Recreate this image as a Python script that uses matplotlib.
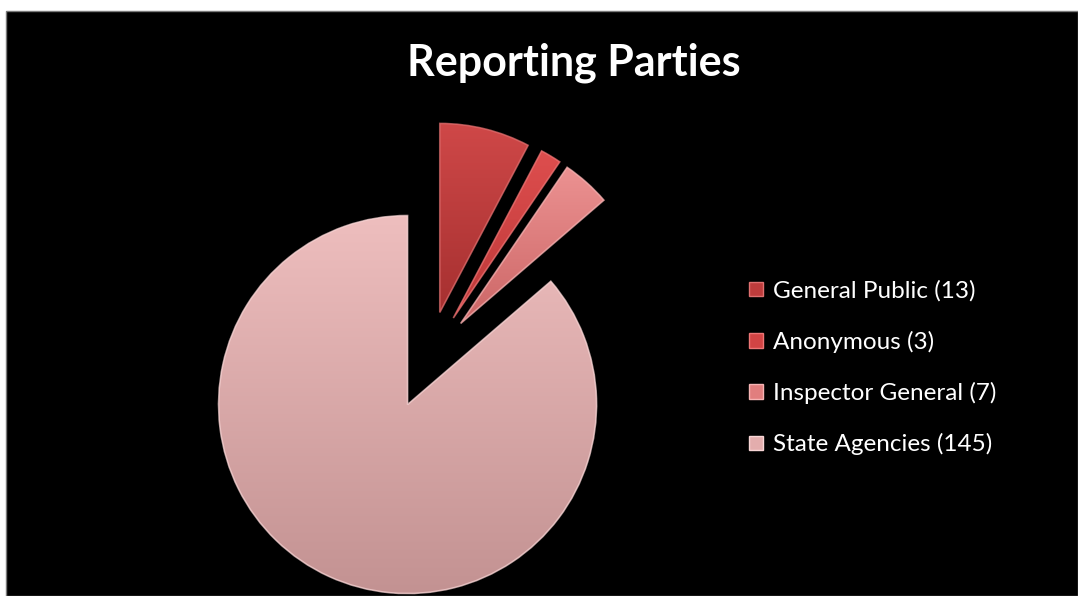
import copy
import numpy as np
import matplotlib.pyplot as plt
from matplotlib.colors import LinearSegmentedColormap
from matplotlib.patches import Rectangle, Patch

names = ['General Public', 'Anonymous', 'Inspector General', 'State Agencies']
counts = [13, 3, 7, 145]

# base colour, top of gradient, bottom of gradient, rim highlight
base_colors = ['#BE3C3C', '#D24444', '#E17E7E', '#E3ADAD']
top_colors = ['#CF4848', '#DE4E4E', '#EC9292', '#EEBEBE']
bottom_colors = ['#A63030', '#BC3838', '#CC6666', '#C39292']
rim_colors = ['#E07070', '#EE7676', '#F6B4B4', '#F8D6D6']

W, H = 1078, 596
fig = plt.figure(figsize=(W / 100, H / 100), dpi=100, facecolor='white')
ax = fig.add_axes([0, 0, 1, 1])

# black slide panel
ax.add_patch(Rectangle((6, 0), W - 6, H - 11, facecolor='black',
                       edgecolor='#7a7a7a', linewidth=1, zorder=0))

wedges, _ = ax.pie(counts, colors=base_colors, startangle=90, counterclock=False,
                   radius=189, center=(428, 236), explode=[49, 49, 49, 49],
                   wedgeprops=dict(linewidth=0))

# vertical shading inside each slice, plus a soft light rim
grad = np.linspace(0, 1, 256).reshape(-1, 1)
for w, c0, c1, rc in zip(wedges, top_colors, bottom_colors, rim_colors):
    w.set_zorder(2)
    cmap = LinearSegmentedColormap.from_list('shade', [c0, c1])
    bb = w.get_path().get_extents(w.get_patch_transform())
    im = ax.imshow(grad, cmap=cmap, aspect='auto', interpolation='bilinear',
                   extent=[bb.x0, bb.x1, bb.y0, bb.y1], origin='upper', zorder=3)
    im.set_clip_path(w)
    rim = copy.copy(w)
    rim.set(facecolor='none', edgecolor=rc, linewidth=1.2, alpha=0.7, zorder=4)
    ax.add_patch(rim)

ax.set_xlim(0, W)
ax.set_ylim(0, H)
ax.set_aspect('auto')
ax.axis('off')

ax.text(574, H - 63, 'Reporting Parties', color='white', fontsize=31,
        fontweight='bold', family='Lato', ha='center', va='center')

handles = [Patch(facecolor=c, edgecolor=t, linewidth=1) for c, t in zip(base_colors, rim_colors)]
labels = [f'{n} ({v})' for n, v in zip(names, counts)]
leg = ax.legend(handles, labels, loc='upper left', bbox_to_anchor=(737, H - 268),
                bbox_transform=ax.transData, frameon=False, borderpad=0,
                handlelength=0.55, handleheight=0.55, handletextpad=0.45,
                labelspacing=1.2, prop={'family': 'Lato', 'size': 17.5})
for t in leg.get_texts():
    t.set_color('white')

fig.savefig('out.png', dpi=100, facecolor='white')
